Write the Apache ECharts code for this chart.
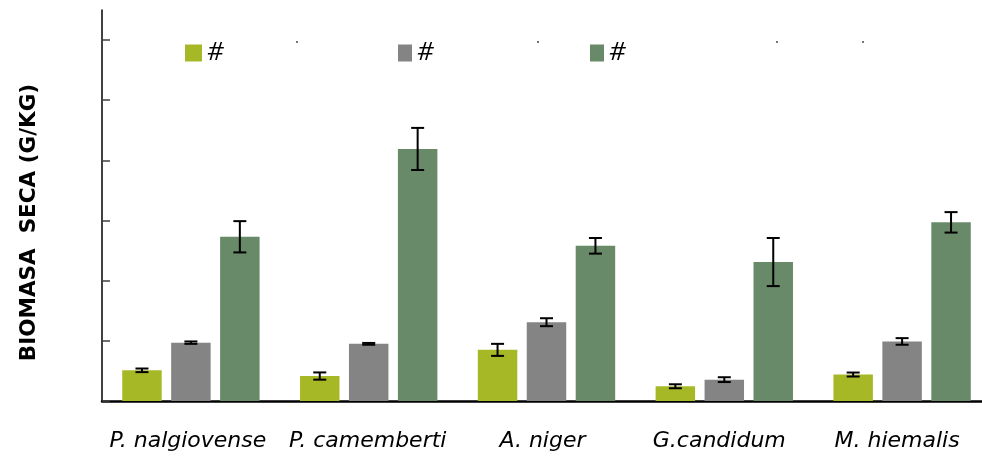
<!DOCTYPE html>
<html>
<head>
<meta charset="utf-8">
<script src="https://cdn.jsdelivr.net/npm/echarts@6/dist/echarts.min.js"></script>
<style>
  html, body { margin: 0; padding: 0; background: #fff; }
  #main { width: 982px; height: 459px; }
</style>
</head>
<body>
<div id="main"></div>
<script>
// categorias (hongos)
const categories = ['P. nalgiovense', 'P. camemberti', 'A. niger', 'G.candidum', 'M. hiemalis'];
// valores
const limeValues = [0.51, 0.415, 0.85, 0.245, 0.44];
const limeErrors = [0.03, 0.06, 0.10, 0.033, 0.033];
const grayValues = [0.97, 0.95, 1.31, 0.355, 0.99];
const grayErrors = [0.02, 0.015, 0.066, 0.04, 0.055];
const greenValues = [2.73, 4.19, 2.58, 2.31, 2.97];
const greenErrors = [0.26, 0.35, 0.13, 0.40, 0.17];
const yTicks = [0, 1, 2, 3, 4, 5, 6];
const legendLabels = ['#', '#', '#'];
const seriesNames = ['s1', 's2', 's3'];

// desplazamiento de etiquetas del eje x (px a la izquierda)
const labelShift = [3, 1, 4, 5, 5];

const colors = ['#a7b826', '#848484', '#698a69'];
const BAR_W = 0.222, BAR_GAP = 0.24;

const myChart = echarts.init(document.getElementById('main'));

function errorSeries(values, errors, idx) {
    return {
        type: 'custom',
        z: 5,
        silent: true,
        data: values.map((v, i) => [i, v, errors[i]]),
        renderItem: function (params, api) {
            const band = api.size([1, 0])[0];
            const off = (idx - 1) * band * BAR_W * (1 + BAR_GAP);
            const hi = api.coord([api.value(0), api.value(1) + api.value(2)]);
            const lo = api.coord([api.value(0), api.value(1) - api.value(2)]);
            const x = hi[0] + off, cap = 6.5;
            const style = { stroke: '#000', lineWidth: 2 };
            return {
                type: 'group',
                children: [
                    { type: 'line', shape: { x1: x, y1: hi[1], x2: x, y2: lo[1] }, style: style },
                    { type: 'line', shape: { x1: x - cap, y1: hi[1], x2: x + cap, y2: hi[1] }, style: style },
                    { type: 'line', shape: { x1: x - cap, y1: lo[1], x2: x + cap, y2: lo[1] }, style: style }
                ]
            };
        }
    };
}

const legendLefts = [185, 398, 590];
const legendIconW = [17, 14, 14];
const rich = {};
labelShift.forEach((s, i) => {
    rich['c' + i] = {
        fontFamily: 'DejaVu Sans', fontStyle: 'italic', fontSize: 22, color: '#000',
        padding: [0, s * 2, 0, 0]
    };
});

myChart.setOption({
    backgroundColor: '#ffffff',
    animation: false,
    legend: legendLefts.map((l, i) => ({
        data: [seriesNames[i]],
        left: l,
        top: 40,
        padding: 0,
        icon: 'rect',
        itemWidth: legendIconW[i],
        itemHeight: 17,
        formatter: () => legendLabels[i],
        textStyle: { fontFamily: 'Open Sans', fontStyle: 'italic', fontSize: 26, color: '#000' }
    })),
    grid: { left: 102, top: 10, width: 889, height: 391, outerBoundsMode: 'none' },
    xAxis: {
        type: 'category',
        data: categories,
        axisLine: { lineStyle: { color: '#000', width: 2.5 } },
        axisTick: { show: false },
        axisLabel: {
            interval: 0,
            margin: 29,
            formatter: (v, i) => '{c' + i + '|' + v + '}',
            rich: rich
        }
    },
    yAxis: {
        type: 'value',
        min: 0,
        max: 6.5,
        interval: 1,
        name: 'BIOMASA  SECA (G/KG)',
        nameLocation: 'middle',
        nameGap: 62,
        nameTextStyle: {
            fontFamily: 'DejaVu Sans', fontWeight: 'bold', fontSize: 21.5, color: '#000',
            padding: [0, 34, 0, 0]
        },
        axisLine: { show: true, lineStyle: { color: '#000', width: 1.5 } },
        axisTick: {
            show: true, inside: true, length: 8, customValues: yTicks,
            lineStyle: { color: '#404040', width: 1.5 }
        },
        axisLabel: { show: false },
        splitLine: { show: false }
    },
    graphic: [297, 538, 777, 863].map(x => ({
        type: 'circle', shape: { cx: x, cy: 42, r: 0.9 }, style: { fill: '#333' }
    })),
    series: [
        { name: seriesNames[0], type: 'bar', data: limeValues, barWidth: (BAR_W * 100) + '%', barGap: (BAR_GAP * 100) + '%', itemStyle: { color: colors[0] } },
        { name: seriesNames[1], type: 'bar', data: grayValues, barWidth: (BAR_W * 100) + '%', barGap: (BAR_GAP * 100) + '%', itemStyle: { color: colors[1] } },
        { name: seriesNames[2], type: 'bar', data: greenValues, barWidth: (BAR_W * 100) + '%', barGap: (BAR_GAP * 100) + '%', itemStyle: { color: colors[2] } },
        errorSeries(limeValues, limeErrors, 0),
        errorSeries(grayValues, grayErrors, 1),
        errorSeries(greenValues, greenErrors, 2)
    ]
});
</script>
</body>
</html>
